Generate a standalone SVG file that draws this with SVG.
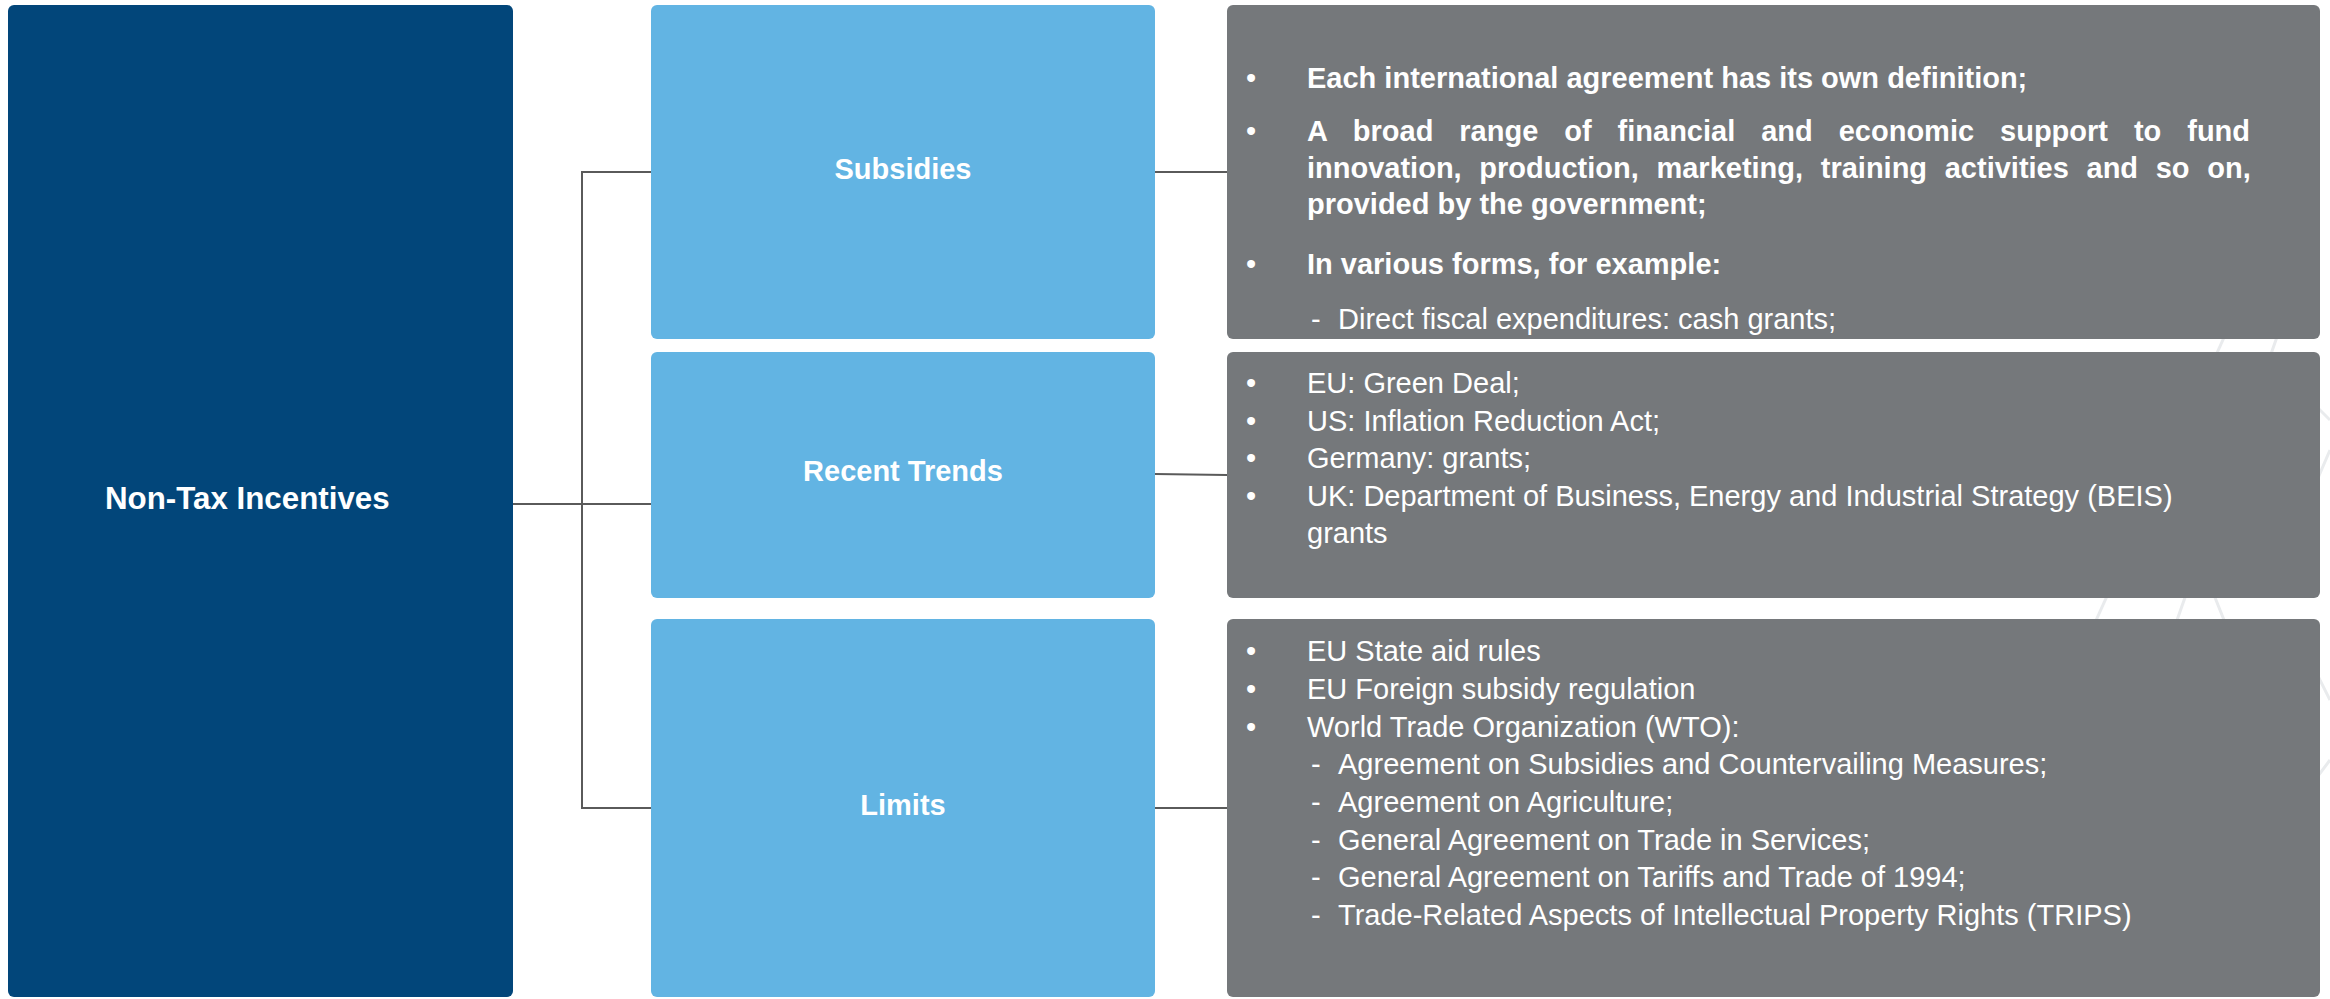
<svg xmlns="http://www.w3.org/2000/svg" width="2330" height="999" viewBox="0 0 2330 999">
  <style>
    .root { fill: #02467a; }
    .topic { fill: #62b4e3; }
    .detail { fill: #75787b; }
    .wire { stroke: #5a5a5a; stroke-width: 2; fill: none; }
    .faint { stroke: #e9ebed; stroke-width: 3; fill: none; }
    .head { font-family: "Liberation Sans", Arial, sans-serif; font-weight: bold; fill: #ffffff; }
    .body { font-family: "Liberation Sans", Arial, sans-serif; font-size: 29px; fill: #ffffff; }
    .b { font-weight: bold; }
  </style>

  <rect x="0" y="0" width="2330" height="999" fill="#ffffff"/>

  <!-- faint network pattern behind the right-hand column -->
  <g id="backdrop" class="faint">
    <line x1="2060" y1="700" x2="2250" y2="280"/>
    <line x1="2170" y1="640" x2="2290" y2="300"/>
    <line x1="2200" y1="560" x2="2240" y2="660"/>
    <line x1="2290" y1="380" x2="2330" y2="420"/>
    <line x1="2300" y1="520" x2="2330" y2="450"/>
    <line x1="2300" y1="640" x2="2330" y2="700"/>
    <line x1="2300" y1="800" x2="2330" y2="760"/>
  </g>

  <g id="connectors" class="wire">
    <polyline points="513,504 651,504"/>
    <polyline points="651,172 582,172 582,808 651,808"/>
    <line x1="1155" y1="172" x2="1227" y2="172"/>
    <line x1="1155" y1="474" x2="1227" y2="475"/>
    <line x1="1155" y1="808" x2="1227" y2="808"/>
  </g>

  <g id="non-tax-incentives">
    <rect class="root" x="8" y="5" width="505" height="992" rx="6"/>
    <text class="head" x="105" y="509" font-size="31.3">Non-Tax Incentives</text>
  </g>

  <g id="subsidies">
    <rect class="topic" x="651" y="5" width="504" height="334" rx="6"/>
    <text class="head" x="903" y="179" font-size="29" text-anchor="middle">Subsidies</text>
  </g>

  <g id="recent-trends">
    <rect class="topic" x="651" y="352" width="504" height="246" rx="6"/>
    <text class="head" x="903" y="481" font-size="29" text-anchor="middle">Recent Trends</text>
  </g>

  <g id="limits">
    <rect class="topic" x="651" y="619" width="504" height="378" rx="6"/>
    <text class="head" x="903" y="815" font-size="29" text-anchor="middle">Limits</text>
  </g>

  <g id="subsidies-detail">
    <rect class="detail" x="1227" y="5" width="1093" height="334" rx="6"/>
    <text class="body">
      <tspan x="1246" y="88">•</tspan>
      <tspan x="1307" y="88" class="b">Each international agreement has its own definition;</tspan>
      <tspan x="1246" y="141">•</tspan>
      <tspan x="1307" y="141" class="b" word-spacing="17.9">A broad range of financial and economic support to fund</tspan>
      <tspan x="1307" y="178" class="b" word-spacing="9.6">innovation, production, marketing, training activities and so on,</tspan>
      <tspan x="1307" y="214" class="b">provided by the government;</tspan>
      <tspan x="1246" y="274">•</tspan>
      <tspan x="1307" y="274" class="b">In various forms, for example:</tspan>
      <tspan x="1311" y="329">-</tspan>
      <tspan x="1338" y="329">Direct fiscal expenditures: cash grants;</tspan>
    </text>
  </g>

  <g id="recent-trends-detail">
    <rect class="detail" x="1227" y="352" width="1093" height="246" rx="6"/>
    <text class="body">
      <tspan x="1246" y="393">•</tspan>
      <tspan x="1307" y="393">EU: Green Deal;</tspan>
      <tspan x="1246" y="431">•</tspan>
      <tspan x="1307" y="431">US: Inflation Reduction Act;</tspan>
      <tspan x="1246" y="468">•</tspan>
      <tspan x="1307" y="468">Germany: grants;</tspan>
      <tspan x="1246" y="506">•</tspan>
      <tspan x="1307" y="506">UK: Department of Business, Energy and Industrial Strategy (BEIS)</tspan>
      <tspan x="1307" y="543">grants</tspan>
    </text>
  </g>

  <g id="limits-detail">
    <rect class="detail" x="1227" y="619" width="1093" height="378" rx="6"/>
    <text class="body">
      <tspan x="1246" y="661">•</tspan>
      <tspan x="1307" y="661">EU State aid rules</tspan>
      <tspan x="1246" y="699">•</tspan>
      <tspan x="1307" y="699">EU Foreign subsidy regulation</tspan>
      <tspan x="1246" y="737">•</tspan>
      <tspan x="1307" y="737">World Trade Organization (WTO):</tspan>
      <tspan x="1311" y="774">-</tspan>
      <tspan x="1338" y="774">Agreement on Subsidies and Countervailing Measures;</tspan>
      <tspan x="1311" y="812">-</tspan>
      <tspan x="1338" y="812">Agreement on Agriculture;</tspan>
      <tspan x="1311" y="850">-</tspan>
      <tspan x="1338" y="850">General Agreement on Trade in Services;</tspan>
      <tspan x="1311" y="887">-</tspan>
      <tspan x="1338" y="887">General Agreement on Tariffs and Trade of 1994;</tspan>
      <tspan x="1311" y="925">-</tspan>
      <tspan x="1338" y="925">Trade-Related Aspects of Intellectual Property Rights (TRIPS)</tspan>
    </text>
  </g>
</svg>
